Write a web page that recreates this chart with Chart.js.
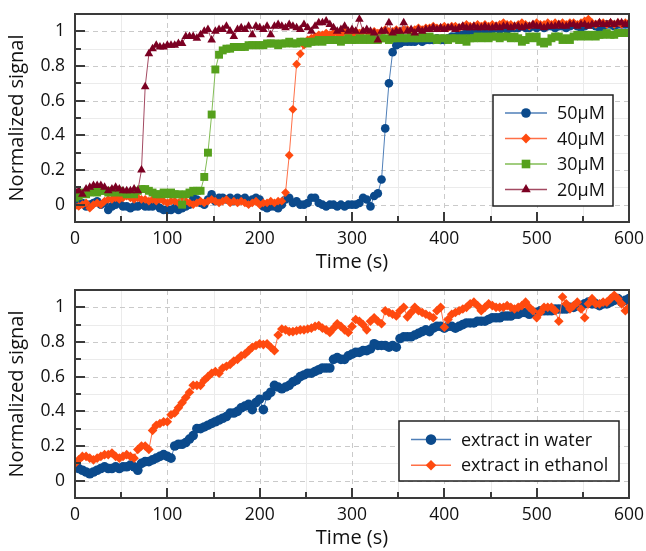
<!DOCTYPE html>
<html>
<head>
<meta charset="utf-8">
<script src="https://cdn.jsdelivr.net/npm/chart.js@4.4.1/dist/chart.umd.min.js"></script>
<style>
  html, body { margin: 0; background: #fff; }
  canvas { position: absolute; left: 0; }
</style>
</head>
<body>
<canvas id="top-chart" width="646" height="275" style="top:0"></canvas>
<canvas id="bottom-chart" width="646" height="276" style="top:275px"></canvas>
<script>
// sampling times (s)
const time = [
  0, 4, 8, 12, 16, 20, 24, 28, 32, 36,
  40, 44, 48, 52, 56, 60, 64, 68, 72, 76,
  80, 84, 88, 92, 96, 100, 104, 108, 112, 116,
  120, 124, 128, 132, 136, 140, 144, 148, 152, 156,
  160, 164, 168, 172, 176, 180, 184, 188, 192, 196,
  200, 204, 208, 212, 216, 220, 224, 228, 232, 236,
  240, 244, 248, 252, 256, 260, 264, 268, 272, 276,
  280, 284, 288, 292, 296, 300, 304, 308, 312, 316,
  320, 324, 328, 332, 336, 340, 344, 348, 352, 356,
  360, 364, 368, 372, 376, 380, 384, 388, 392, 396,
  400, 404, 408, 412, 416, 420, 424, 428, 432, 436,
  440, 444, 448, 452, 456, 460, 464, 468, 472, 476,
  480, 484, 488, 492, 496, 500, 504, 508, 512, 516,
  520, 524, 528, 532, 536, 540, 544, 548, 552, 556,
  560, 564, 568, 572, 576, 580, 584, 588, 592, 596,
  600
];

// top panel: concentrations
const conc50 = [
  0.01, 0.0, 0.01, -0.01, 0.0, 0.01, 0.02, 0.0, 0.01, -0.03,
  -0.01, 0.0, 0.01, -0.01, -0.01, -0.02, -0.01, -0.01, 0.0, -0.01,
  -0.01, -0.01, 0.0, -0.02, -0.03, -0.03, -0.03, -0.02, -0.03, -0.02,
  -0.01, 0.0, 0.04, 0.03, 0.01, 0.0, 0.03, 0.06, 0.02, 0.04,
  0.04, 0.03, 0.04, 0.02, 0.04, 0.03, 0.04, 0.01, 0.03, 0.04,
  0.03, -0.01, -0.02, -0.01, -0.01, -0.02, 0.0, 0.03, 0.04, 0.01,
  0.02, 0.0, 0.0, 0.01, 0.04, 0.04, 0.01, 0.0, -0.01, 0.0,
  0.0, -0.01, 0.0, -0.01, 0.0, 0.0, 0.0, 0.01, 0.04, 0.03,
  -0.01, 0.05, 0.065, 0.145, 0.44, 0.70, 0.88, 0.92, 0.93, 0.94,
  0.94, 0.94, 0.94, 0.95, 0.94, 0.95, 0.95, 0.95, 0.96, 0.95,
  0.95, 0.96, 0.97, 0.97, 0.98, 0.98, 0.99, 0.99, 1.0, 1.0,
  1.0, 1.01, 1.0, 1.01, 1.02, 1.01, 1.02, 1.01, 1.02, 1.02,
  1.02, 1.03, 1.02, 1.02, 1.03, 1.02, 1.03, 1.02, 1.03, 1.03,
  1.02, 1.03, 1.03, 1.02, 1.03, 1.04, 1.03, 1.02, 1.03, 1.04,
  1.04, 1.03, 1.02, 1.03, 1.04, 1.04, 1.03, 1.04, 1.04, 1.04,
  1.04
];
const conc40 = [
  -0.01, -0.01, 0.0, 0.01, -0.02, 0.0, 0.01, 0.0, 0.02, 0.03,
  0.03, 0.04, 0.03, 0.04, 0.05, 0.04, 0.03, 0.04, 0.03, 0.03,
  0.02, 0.03, 0.02, 0.03, 0.02, 0.01, 0.02, 0.02, 0.01, 0.03,
  0.02, 0.01, 0.0, 0.01, 0.02, 0.01, 0.02, 0.03, 0.02, 0.01,
  0.02, 0.03, 0.01, 0.02, 0.01, 0.02, 0.01, 0.0, 0.01, 0.02,
  0.0, 0.01, 0.01, 0.02, 0.01, 0.02, 0.02, 0.07, 0.285, 0.55,
  0.81, 0.87, 0.92, 0.95, 0.96, 0.97, 0.98, 0.98, 0.99, 0.98,
  0.99, 0.99, 0.98, 1.0, 0.99, 0.98, 1.0, 0.99, 1.0, 1.0,
  0.99, 1.0, 0.99, 1.0, 1.01, 1.0, 1.0, 1.01, 1.0, 1.01,
  1.01, 1.0, 1.01, 1.02, 1.01, 1.02, 1.02, 1.03, 1.02, 1.02,
  1.03, 1.02, 1.03, 1.03, 1.02, 1.03, 1.04, 1.03, 1.03, 1.04,
  1.03, 1.04, 1.03, 1.04, 1.03, 1.04, 1.05, 1.04, 1.04, 1.03,
  1.04, 1.05, 1.04, 1.03, 1.04, 1.05, 1.04, 1.04, 1.05, 1.04,
  1.05, 1.04, 1.05, 1.04, 1.05, 1.05, 1.04, 1.05, 1.06, 1.07,
  1.05, 1.04, 1.05, 1.05, 1.04, 1.05, 1.04, 1.05, 1.04, 1.05,
  1.05
];
const conc30 = [
  0.04, 0.05, 0.07, 0.06, 0.07, 0.08, 0.07, 0.08, 0.08, 0.07,
  0.08, 0.07, 0.08, 0.07, 0.06, 0.07, 0.06, 0.08, 0.09, 0.09,
  0.08, 0.07, 0.06, 0.06, 0.07, 0.06, 0.07, 0.06, 0.06, 0.0,
  0.06, 0.07, 0.08, 0.08, 0.08, 0.16, 0.30, 0.52, 0.78, 0.865,
  0.89, 0.90, 0.90, 0.91, 0.91, 0.91, 0.91, 0.92, 0.92, 0.92,
  0.92, 0.92, 0.93, 0.93, 0.93, 0.92, 0.93, 0.93, 0.94, 0.93,
  0.93, 0.94, 0.94, 0.93, 0.94, 0.94, 0.95, 0.94, 0.95, 0.95,
  0.95, 0.95, 0.94, 0.95, 0.96, 0.95, 0.95, 0.96, 0.95, 0.96,
  0.95, 0.96, 0.95, 0.96, 0.96, 0.95, 0.96, 0.96, 0.97, 0.96,
  0.96, 0.97, 0.96, 0.96, 0.97, 0.96, 0.97, 0.96, 0.95, 0.96,
  0.96, 0.95, 0.96, 0.96, 0.95, 0.96, 0.94, 0.96, 0.96, 0.97,
  0.96, 0.97, 0.96, 0.97, 0.97, 0.96, 0.97, 0.97, 0.96, 0.97,
  0.96, 0.94, 0.95, 0.97, 0.96, 0.97, 0.94, 0.93, 0.94, 0.96,
  0.97, 0.97, 0.95, 0.96, 0.95, 0.97, 0.98, 0.97, 0.98, 0.97,
  0.98, 0.97, 0.98, 0.98, 0.99, 0.98, 0.98, 0.99, 0.99, 0.99,
  0.99
];
const conc20 = [
  0.08, 0.08, 0.06, 0.09, 0.10, 0.11, 0.11, 0.11, 0.10, 0.08,
  0.09, 0.10, 0.09, 0.08, 0.08, 0.08, 0.09, 0.08, 0.20, 0.68,
  0.87, 0.90, 0.92, 0.91, 0.91, 0.92, 0.92, 0.92, 0.93, 0.93,
  0.97, 0.97, 0.97, 0.96, 0.98, 1.0, 1.01, 0.95, 1.0, 1.01,
  1.01, 1.03, 1.0, 0.97, 1.01, 1.02, 1.01, 1.03, 0.98, 1.03,
  1.02, 1.01, 1.03, 0.98, 1.03, 1.04, 1.03, 1.02, 1.04, 1.03,
  1.02, 1.01, 1.04, 1.02, 1.0, 1.03, 1.05, 1.05, 1.06, 1.04,
  1.02, 1.0, 1.01, 1.03, 1.0, 1.01, 1.0, 1.07, 1.0, 1.01,
  1.0, 0.99, 0.95, 1.0, 1.0, 1.05, 0.99, 1.0, 1.0, 1.05,
  1.0, 1.01, 0.99, 1.01, 1.0, 1.01, 1.01, 1.02, 1.01, 1.02,
  1.01, 1.02, 1.02, 1.01, 1.02, 1.03, 1.02, 1.02, 1.03, 1.02,
  1.02, 1.03, 1.02, 1.02, 1.03, 1.02, 1.03, 1.03, 1.02, 1.03,
  1.03, 1.02, 1.03, 1.03, 1.04, 1.03, 1.03, 1.02, 1.03, 1.03,
  1.03, 1.04, 1.03, 1.03, 1.04, 1.04, 1.03, 1.04, 1.04, 1.03,
  1.04, 1.04, 1.05, 1.04, 1.04, 1.05, 1.04, 1.05, 1.05, 1.04,
  1.05
];

// bottom panel: extracts
const inWater = [
  0.08, 0.07, 0.06, 0.05, 0.04, 0.05, 0.06, 0.07, 0.08, 0.07,
  0.07, 0.08, 0.07, 0.08, 0.08, 0.09, 0.08, 0.06, 0.10, 0.11,
  0.11, 0.12, 0.13, 0.14, 0.15, 0.14, 0.13, 0.20, 0.21, 0.21,
  0.22, 0.24, 0.26, 0.30, 0.30, 0.31, 0.32, 0.33, 0.34, 0.35,
  0.36, 0.37, 0.39, 0.39, 0.40, 0.42, 0.43, 0.44, 0.41, 0.45,
  0.47, 0.41, 0.49, 0.51, 0.55, 0.54, 0.53, 0.54, 0.55, 0.57,
  0.58, 0.60, 0.61, 0.62, 0.62, 0.63, 0.64, 0.65, 0.65, 0.65,
  0.70, 0.71, 0.70, 0.70, 0.72, 0.73, 0.74, 0.74, 0.75, 0.75,
  0.76, 0.79, 0.78, 0.78, 0.78, 0.77, 0.78, 0.77, 0.82, 0.83,
  0.83, 0.83, 0.84, 0.85, 0.86, 0.87, 0.86, 0.88, 0.89, 0.89,
  0.88, 0.89, 0.89, 0.88, 0.89, 0.90, 0.91, 0.91, 0.91, 0.92,
  0.92, 0.92, 0.93, 0.94, 0.94, 0.94, 0.95, 0.95, 0.95, 0.96,
  0.96, 0.97, 0.97, 0.96, 0.97, 0.97, 0.98, 0.98, 0.98, 0.98,
  0.99, 0.99, 0.99, 0.99, 1.0, 1.0, 1.01, 1.01, 1.02, 1.03,
  1.02, 1.02, 1.01, 1.02, 1.02, 1.03, 1.04, 1.05, 1.03, 1.04,
  1.05
];
const inEthanol = [
  0.10, 0.12, 0.14, 0.14, 0.13, 0.12, 0.13, 0.14, 0.15, 0.15,
  0.16, 0.14, 0.13, 0.14, 0.15, 0.14, 0.13, 0.18, 0.20, 0.20,
  0.18, 0.29, 0.32, 0.33, 0.34, 0.34, 0.38, 0.39, 0.42, 0.45,
  0.48, 0.51, 0.55, 0.55, 0.55, 0.58, 0.60, 0.62, 0.63, 0.62,
  0.65, 0.66, 0.67, 0.69, 0.70, 0.72, 0.73, 0.75, 0.77, 0.78,
  0.79, 0.785, 0.79, 0.77, 0.75, 0.84, 0.875, 0.87, 0.86, 0.86,
  0.865, 0.87, 0.87, 0.875, 0.88, 0.89, 0.895, 0.88, 0.87, 0.855,
  0.88, 0.905, 0.89, 0.87, 0.855, 0.89, 0.93, 0.92, 0.90, 0.87,
  0.92, 0.94, 0.92, 0.905, 0.98, 0.97, 0.96, 0.95, 0.98, 1.0,
  0.945, 0.97, 1.0, 0.98, 0.97, 0.96, 0.95, 0.94, 0.98, 1.0,
  0.885, 0.93, 0.96, 0.97, 0.98, 0.99, 1.0, 1.02, 1.03, 1.01,
  0.98, 1.0, 1.02, 1.01, 1.0, 1.0, 1.0, 1.01, 1.0, 0.99,
  1.0, 1.01, 1.03, 1.0, 0.98, 0.94, 0.97, 1.0, 1.0, 1.0,
  0.98, 0.92, 1.06, 1.02, 0.99, 1.01, 1.03, 0.99, 0.94, 1.02,
  1.05, 1.02, 1.02, 1.03, 1.03, 1.05, 1.07, 1.05, 1.02, 0.98,
  1.0
];

// axis ticks
const xMajorTicks = [0, 100, 200, 300, 400, 500, 600];
const xMinorTicks = [50, 150, 250, 350, 450, 550];
const yMajorTicks = [0, 0.2, 0.4, 0.6, 0.8, 1];
const yMinorTicks = [-0.1, 0.1, 0.3, 0.5, 0.7, 0.9, 1.1];

Chart.defaults.font.family = '"Open Sans", "DejaVu Sans", sans-serif';
Chart.defaults.color = '#111';

function toPoints(values) {
  return time.map((t, i) => ({ x: t, y: values[i] }));
}

// grid, frame with inward ticks, and a boxed legend inside the plot
const paperPlugin = {
  id: 'paper',
  beforeDatasetsDraw(chart) {
    const { ctx, chartArea: a, scales: { x, y } } = chart;
    const vline = px => { px = Math.round(px) + 0.5; ctx.beginPath(); ctx.moveTo(px, a.top); ctx.lineTo(px, a.bottom); ctx.stroke(); };
    const hline = py => { py = Math.round(py) + 0.5; ctx.beginPath(); ctx.moveTo(a.left, py); ctx.lineTo(a.right, py); ctx.stroke(); };
    ctx.save();
    ctx.lineWidth = 1;
    ctx.strokeStyle = '#ebebeb';
    xMinorTicks.forEach(v => vline(x.getPixelForValue(v)));
    yMinorTicks.forEach(v => hline(y.getPixelForValue(v)));
    ctx.strokeStyle = '#cacaca';
    ctx.setLineDash([5, 4]);
    xMajorTicks.forEach(v => vline(x.getPixelForValue(v)));
    yMajorTicks.forEach(v => hline(y.getPixelForValue(v)));
    ctx.restore();
  },
  afterDatasetsDraw(chart) {
    const { ctx, chartArea: a, scales: { x, y } } = chart;
    ctx.save();
    ctx.strokeStyle = '#3a3a3a';
    ctx.lineWidth = 2;
    ctx.strokeRect(a.left, a.top, a.right - a.left, a.bottom - a.top);
    const tickX = (v, len) => { const px = Math.round(x.getPixelForValue(v)); ctx.beginPath(); ctx.moveTo(px, a.bottom); ctx.lineTo(px, a.bottom - len); ctx.stroke(); };
    const tickY = (v, len) => { const py = Math.round(y.getPixelForValue(v)); ctx.beginPath(); ctx.moveTo(a.left, py); ctx.lineTo(a.left + len, py); ctx.stroke(); };
    xMajorTicks.forEach(v => tickX(v, 10));
    xMinorTicks.forEach(v => tickX(v, 6));
    yMajorTicks.forEach(v => tickY(v, 10));
    yMinorTicks.forEach(v => tickY(v, 6));
    ctx.restore();
  },
  afterDraw(chart, args, box) {
    const { ctx, chartArea: a } = chart;
    const left = a.right - box.right - box.width;
    const top = a.bottom - box.bottom - box.height;
    ctx.save();
    ctx.fillStyle = '#fff';
    ctx.fillRect(left, top, box.width, box.height);
    ctx.strokeStyle = '#222';
    ctx.lineWidth = 1.5;
    ctx.strokeRect(left, top, box.width, box.height);
    ctx.font = '18px "Open Sans", "DejaVu Sans", sans-serif';
    ctx.textBaseline = 'middle';
    chart.data.datasets.forEach((ds, i) => {
      const yy = top + box.firstY + i * box.gap;
      ctx.strokeStyle = ds.borderColor;
      ctx.lineWidth = 1.5;
      ctx.beginPath();
      ctx.moveTo(left + box.lineFrom, yy);
      ctx.lineTo(left + box.lineTo, yy);
      ctx.stroke();
      ctx.fillStyle = ds.pointBackgroundColor;
      Chart.helpers.drawPoint(ctx, { pointStyle: ds.pointStyle, radius: ds.pointRadius + 0.5, rotation: 0, borderWidth: 0 }, left + box.markX, yy);
      ctx.fillStyle = '#111';
      ctx.fillText(ds.label, left + box.textX, yy + 1);
    });
    ctx.restore();
  }
};

function series(label, values, marker, line, style, radius, order) {
  return {
    label: label,
    data: toPoints(values),
    borderColor: line,
    borderWidth: 1,
    pointBackgroundColor: marker,
    pointBorderWidth: 0,
    pointStyle: style,
    pointRadius: radius,
    tension: 0,
    order: order
  };
}

function makeChart(id, datasets, padTop, legendBox) {
  return new Chart(document.getElementById(id), {
    type: 'line',
    data: { datasets: datasets },
    options: {
      responsive: false,
      animation: false,
      devicePixelRatio: 1,
      layout: { padding: { top: padTop, right: 17, left: 0, bottom: 0 } },
      plugins: {
        legend: { display: false },
        tooltip: { enabled: false },
        paper: legendBox
      },
      scales: {
        x: {
          type: 'linear',
          min: 0,
          max: 600,
          afterBuildTicks: s => { s.ticks = xMajorTicks.map(v => ({ value: v })); },
          afterFit: s => { s.height = 53; s.paddingLeft = 0; s.paddingRight = 0; },
          grid: { display: false, drawTicks: false },
          border: { display: false },
          ticks: { padding: 7, font: { size: 17.5 }, maxRotation: 0, autoSkip: false, callback: v => String(v) },
          title: { display: true, text: 'Time (s)', font: { size: 20 }, padding: { top: 0, bottom: 1 } }
        },
        y: {
          min: -0.1,
          max: 1.1,
          afterBuildTicks: s => { s.ticks = yMajorTicks.map(v => ({ value: v })); },
          afterFit: s => { s.width = 75; s.paddingTop = 0; s.paddingBottom = 0; },
          grid: { display: false, drawTicks: false },
          border: { display: false },
          ticks: { padding: 10, font: { size: 17.5 }, callback: v => String(Math.round(v * 10) / 10) },
          title: { display: true, text: 'Normalized signal', font: { size: 20 }, padding: { top: 5, bottom: 0 } }
        }
      }
    },
    plugins: [paperPlugin]
  });
}

// 上图：不同浓度
makeChart('top-chart', [
  series('50μM', conc50, '#0b4a8c', '#4f7fb8', 'circle', 4.3, 3),
  series('40μM', conc40, '#ff4a0f', '#ff7047', 'rectRot', 4.4, 2),
  series('30μM', conc30, '#55a01c', '#82bd55', 'rect', 5.6, 1),
  series('20μM', conc20, '#7b0022', '#a34a62', 'triangle', 5, 0)
], 14, { width: 120, height: 111, right: 16, bottom: 16, firstY: 18, gap: 25.5, lineFrom: 12, lineTo: 54, markX: 33, textX: 64 });

// 下图：提取物
makeChart('bottom-chart', [
  series('extract in water', inWater, '#0b4a8c', '#4f7fb8', 'circle', 4.8, 1),
  series('extract in ethanol', inEthanol, '#ff4a0f', '#ff7047', 'rectRot', 4.8, 0)
], 15, { width: 220, height: 60, right: 10, bottom: 17, firstY: 18.6, gap: 25.7, lineFrom: 12, lineTo: 52, markX: 32, textX: 62 });
</script>
</body>
</html>
